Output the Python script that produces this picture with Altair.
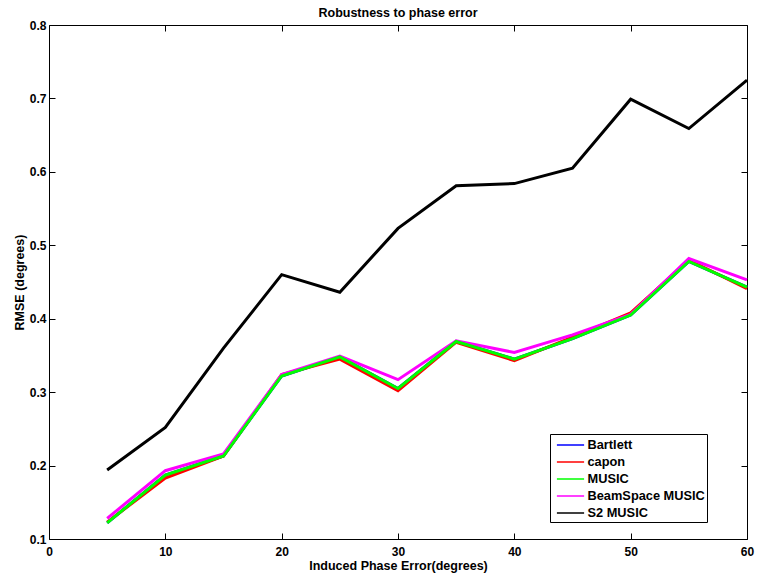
import altair as alt
import pandas as pd

# Induced phase error (degrees) and RMSE (degrees) per estimator
phase_error = [5, 10, 15, 20, 25, 30, 35, 40, 45, 50, 55, 60]
bartlett = [0.122, 0.187, 0.213, 0.322, 0.348, 0.305, 0.369, 0.345, 0.373, 0.405, 0.478, 0.443]
capon = [0.123, 0.183, 0.213, 0.324, 0.345, 0.302, 0.368, 0.343, 0.375, 0.408, 0.480, 0.441]
music = [0.122, 0.187, 0.213, 0.322, 0.348, 0.305, 0.369, 0.345, 0.373, 0.405, 0.478, 0.443]
beamspace_music = [0.128, 0.193, 0.216, 0.324, 0.349, 0.317, 0.370, 0.354, 0.378, 0.406, 0.482, 0.453]
s2_music = [0.194, 0.252, 0.360, 0.460, 0.436, 0.523, 0.581, 0.584, 0.605, 0.699, 0.659, 0.725]

methods = ["Bartlett", "capon", "MUSIC", "BeamSpace MUSIC", "S2 MUSIC"]
colors = ["#0000ff", "#ff0000", "#00ff00", "#ff00ff", "#000000"]
series = [bartlett, capon, music, beamspace_music, s2_music]
draw_order = ["Bartlett", "capon", "BeamSpace MUSIC", "MUSIC", "S2 MUSIC"]

x_ticks = [0, 10, 20, 30, 40, 50, 60]
y_ticks = [0.1, 0.2, 0.3, 0.4, 0.5, 0.6, 0.7, 0.8]

rows = []
for name, vals in zip(methods, series):
    for xv, yv in zip(phase_error, vals):
        rows.append({"x": xv, "y": yv, "method": name})
df = pd.DataFrame(rows)

FONT = "Liberation Sans"
W, H = 698, 514
TICK = 6

x_scale = alt.Scale(domain=[0, 60], nice=False, zero=False)
y_scale = alt.Scale(domain=[0.1, 0.8], nice=False, zero=False)
color = alt.Color("method:N", scale=alt.Scale(domain=methods, range=colors),
                  legend=alt.Legend(title=None))

x_label_axis = alt.Axis(orient="bottom", values=x_ticks, ticks=False, tickSize=0,
                        domain=False, grid=False, labelPadding=7, labelFlush=False,
                        labelOverlap=False, title="Induced Phase Error(degrees)",
                        titleY=30, titleBaseline="alphabetic")
y_label_axis = alt.Axis(orient="left", values=y_ticks, format=".1f", ticks=False,
                        tickSize=0, domain=False, grid=False, labelPadding=3,
                        labelFlush=False, labelOverlap=False, title="RMSE (degrees)",
                        titleX=-26, titleY=H / 2, titleAngle=270,
                        titleBaseline="alphabetic", titleAlign="center")

layers = []
for i, name in enumerate(draw_order):
    if i == 0:
        xa, ya = x_label_axis, y_label_axis
    else:
        xa, ya = None, None
    layers.append(
        alt.Chart(df)
        .transform_filter(alt.datum.method == name)
        .mark_line(strokeWidth=3)
        .encode(
            x=alt.X("x:Q", scale=x_scale, axis=xa, title=None),
            y=alt.Y("y:Q", scale=y_scale, axis=ya, title=None),
            color=color,
        )
    )


def tick_layer(x_orient, y_orient):
    # inward-pointing tick marks: axis moved inside the frame, ticks reach the edge
    return alt.Chart(df).mark_point(opacity=0).encode(
        x=alt.X("x:Q", scale=x_scale, title=None,
                axis=alt.Axis(orient=x_orient, offset=-TICK, tickSize=TICK, values=x_ticks,
                              labels=False, domain=False, grid=False, tickColor="black")),
        y=alt.Y("y:Q", scale=y_scale, title=None,
                axis=alt.Axis(orient=y_orient, offset=-TICK, tickSize=TICK, values=y_ticks,
                              labels=False, domain=False, grid=False, tickColor="black")),
    )


layers.append(tick_layer("bottom", "left"))
layers.append(tick_layer("top", "right"))

chart = (
    alt.layer(*layers)
    .resolve_axis(x="independent", y="independent")
    .properties(
        width=W,
        height=H,
        autosize=alt.AutoSizeParams(type="none"),
        padding={"left": 49, "top": 25, "right": 10, "bottom": 38},
        background="white",
        title=alt.TitleParams("Robustness to phase error", font=FONT, fontSize=12.5,
                              fontWeight="bold", color="black", anchor="middle",
                              frame="group", offset=2, dy=12, baseline="alphabetic"),
    )
    .configure_view(stroke="black", strokeWidth=1)
    .configure_axis(labelFont=FONT, labelFontSize=12, labelFontWeight="bold",
                    labelColor="black", titleFont=FONT, titleFontSize=12.5,
                    titleFontWeight="bold", titleColor="black", tickColor="black",
                    tickWidth=1)
    .configure_legend(orient="none", legendX=501, legendY=409, padding=2,
                      strokeColor="black", fillColor="white", cornerRadius=0,
                      symbolType="M-1.7,0H1.7", symbolSize=256, symbolStrokeWidth=1.5,
                      symbolOffset=9.5, labelOffset=8, rowPadding=1,
                      labelFont=FONT, labelFontSize=12.8, labelFontWeight="bold",
                      labelColor="black")
)

chart.save("out.html", embed_options={"renderer": "svg", "actions": False})
